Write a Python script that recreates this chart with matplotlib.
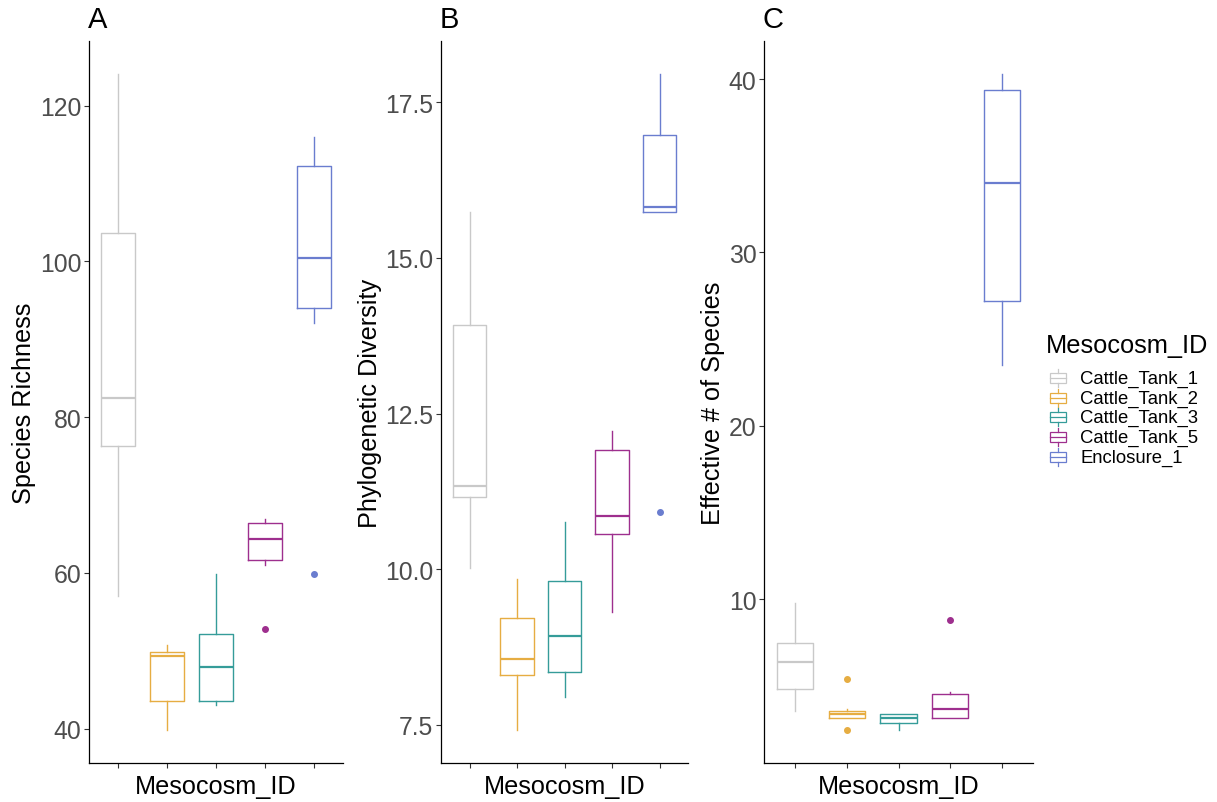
import matplotlib
matplotlib.use("Agg")
import matplotlib.pyplot as plt
from matplotlib.patches import Rectangle
from matplotlib.lines import Line2D

plt.rcParams["font.family"] = ["Liberation Sans", "DejaVu Sans"]

groups = ["Cattle_Tank_1", "Cattle_Tank_2", "Cattle_Tank_3", "Cattle_Tank_5", "Enclosure_1"]
colors = ["#C9C9C9", "#E6AD42", "#359C99", "#9E2F8E", "#6A7DCF"]

# box stats: lower whisker, q1, median, q3, upper whisker
rich_lo = [57.0, 39.8, 43.0, 61.0, 92.1]
rich_q1 = [76.3, 43.6, 43.6, 61.6, 94.0]
rich_med = [82.5, 49.3, 47.9, 64.4, 100.5]
rich_q3 = [103.6, 49.8, 52.2, 66.4, 112.3]
rich_hi = [124.1, 50.8, 59.8, 66.9, 116.0]
rich_out = [[], [], [], [52.8], [59.8]]

pd_lo = [10.02, 7.41, 7.94, 9.31, 15.74]
pd_q1 = [11.15, 8.30, 8.34, 10.56, 15.74]
pd_med = [11.33, 8.55, 8.93, 10.86, 15.82]
pd_q3 = [13.92, 9.22, 9.81, 11.91, 16.97]
pd_hi = [15.74, 9.84, 10.75, 12.22, 17.96]
pd_out = [[], [], [], [], [10.92]]

eff_lo = [3.57, 3.17, 2.45, 3.15, 23.5]
eff_q1 = [4.84, 3.17, 2.85, 3.15, 27.19]
eff_med = [6.39, 3.36, 3.17, 3.70, 34.02]
eff_q3 = [7.45, 3.57, 3.36, 4.55, 39.34]
eff_hi = [9.76, 3.70, 3.41, 4.63, 40.3]
eff_out = [[], [5.43, 2.45], [], [8.78], []]

panels = [
    ("A", "Species Richness", rich_lo, rich_q1, rich_med, rich_q3, rich_hi, rich_out, [40, 60, 80, 100, 120], "%d"),
    ("B", "Phylogenetic Diversity", pd_lo, pd_q1, pd_med, pd_q3, pd_hi, pd_out, [7.5, 10.0, 12.5, 15.0, 17.5], "%.1f"),
    ("C", "Effective # of Species", eff_lo, eff_q1, eff_med, eff_q3, eff_hi, eff_out, [10, 20, 30, 40], "%d"),
]

W, H = 1217, 803
# axes boxes in pixels: left, bottom, width, height
rects = [(89, 39, 254, 722), (441, 39, 247, 722), (764, 39, 269, 722)]

fig = plt.figure(figsize=(W / 100, H / 100), dpi=100)

for rect, (letter, ylab, lo, q1, med, q3, hi, out, yt, fmt) in zip(rects, panels):
    ax = fig.add_axes([rect[0] / W, rect[1] / H, rect[2] / W, rect[3] / H])
    for i in range(len(groups)):
        st = [{"whislo": lo[i], "q1": q1[i], "med": med[i], "q3": q3[i],
               "whishi": hi[i], "fliers": out[i]}]
        ax.bxp(st, positions=[i + 1], widths=0.7, showcaps=False,
               boxprops=dict(color=colors[i], lw=1.0),
               whiskerprops=dict(color=colors[i], lw=1.0),
               medianprops=dict(color=colors[i], lw=1.6),
               flierprops=dict(marker="o", markersize=4, markerfacecolor=colors[i],
                               markeredgecolor=colors[i]))
    vals = lo + hi + [v for o in out for v in o]
    lo_v, hi_v = min(vals), max(vals)
    pad = 0.05 * (hi_v - lo_v)
    ax.set_ylim(lo_v - pad, hi_v + pad)
    ax.set_xlim(0.4, len(groups) + 0.6)
    ax.set_yticks(yt)
    ax.set_yticklabels([fmt % v for v in yt])
    ax.set_xticks(range(1, len(groups) + 1))
    ax.set_xticklabels([])
    ax.spines["top"].set_visible(False)
    ax.spines["right"].set_visible(False)
    for s in ("left", "bottom"):
        ax.spines[s].set_linewidth(0.9)
        ax.spines[s].set_color("black")
    ax.tick_params(axis="both", length=3.5, width=0.8, color="#333333",
                   labelsize=17.8, labelcolor="#4D4D4D", pad=2)
    ax.set_ylabel(ylab, fontsize=18.2, labelpad=2.5)
    ax.set_xlabel("Mesocosm_ID", fontsize=18.2, labelpad=2.5)
    ax.set_title(letter, loc="left", fontsize=21, pad=10, x=-0.005)

# legend drawn by hand so the row spacing matches
fig.text(1046 / W, 1 - 353 / H, "Mesocosm_ID", fontsize=18.3, va="baseline", ha="left")
row_y = [379, 399, 418, 438, 458]
for name, c, y in zip(groups, colors, row_y):
    x0, x1, xc = 1050, 1066, 1058
    fig.add_artist(Rectangle((x0 / W, 1 - (y + 5) / H), (x1 - x0) / W, 10 / H,
                             fill=False, ec=c, lw=0.9, transform=fig.transFigure))
    fig.add_artist(Line2D([x0 / W, x1 / W], [1 - y / H] * 2, color=c, lw=0.9,
                          transform=fig.transFigure))
    fig.add_artist(Line2D([xc / W] * 2, [1 - (y - 5) / H, 1 - (y - 9) / H], color=c, lw=0.9,
                          transform=fig.transFigure))
    fig.add_artist(Line2D([xc / W] * 2, [1 - (y + 5) / H, 1 - (y + 9) / H], color=c, lw=0.9,
                          transform=fig.transFigure))
    fig.text(1080 / W, 1 - y / H, name, fontsize=13.3, va="center", ha="left")

fig.savefig("out.png", dpi=100)
